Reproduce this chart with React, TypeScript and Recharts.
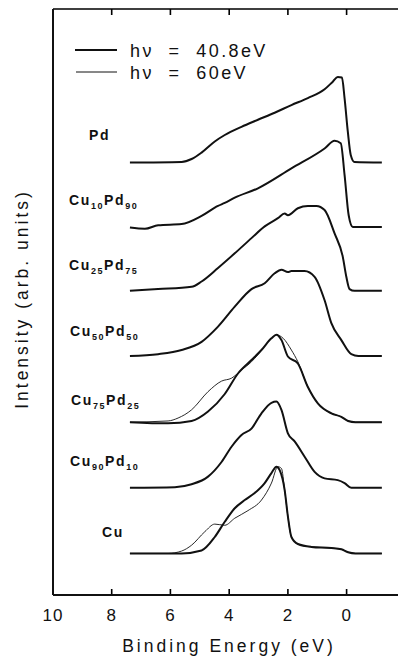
import { LineChart, Line, XAxis, YAxis } from "recharts";

// binding energy (eV) / intensity (arb. units, curves already stacked)
const pdE = [7.38, 5.62, 5.28, 4.94, 4.49, 4.15, 3.58, 3.02, 2.45, 1.88, 1.32, 0.75, 0.47, 0.3, 0.16, 0.07, -0.04, -0.14, -0.27, -1.2];
const pdI = [73.8, 73.9, 74.4, 75.5, 77.4, 78.5, 79.9, 81.1, 82.3, 83.6, 84.8, 86.3, 87.6, 88.4, 88.3, 84.8, 79.1, 75.1, 73.9, 73.8];

const cu10E = [7.38, 6.87, 6.42, 5.62, 4.94, 4.38, 4.15, 3.81, 3.02, 1.88, 0.75, 0.41, 0.2, 0.07, -0.07, -0.21, -1.2];
const cu10I = [62.7, 62.5, 63.1, 63.3, 64.7, 66.4, 66.9, 67.8, 69.4, 72.8, 76.2, 77.5, 77.1, 71.7, 64.8, 62.8, 62.8];

const cu25E = [7.38, 6.42, 5.28, 4.94, 4.38, 3.81, 3.24, 2.79, 2.34, 2.11, 2.0, 1.66, 1.32, 1.03, 0.75, 0.41, 0.13, 0.01, -0.1, -0.27, -1.2];
const cu25I = [51.9, 52.2, 52.6, 53.5, 55.8, 58.3, 60.9, 62.9, 64.3, 65.1, 64.8, 66.0, 66.4, 66.4, 65.7, 61.7, 57.7, 54.3, 52.2, 51.9, 51.9];

const cu50E = [7.38, 6.42, 5.62, 4.94, 4.38, 3.81, 3.24, 2.79, 2.45, 2.22, 2.0, 1.88, 1.43, 1.09, 0.75, 0.52, 0.18, -0.16, -0.4, -1.2];
const cu50I = [40.8, 41.1, 41.8, 43.2, 45.8, 49.2, 52.2, 53.2, 54.9, 55.5, 55.1, 55.3, 55.3, 54.3, 50.3, 46.4, 43.5, 41.1, 40.8, 40.8];

const cu75E = [7.38, 6.08, 5.28, 4.72, 4.15, 3.7, 3.24, 2.9, 2.56, 2.39, 2.22, 2.0, 1.66, 1.32, 0.98, 0.52, 0.18, -0.05, -0.3, -1.2];
const cu75I = [29.5, 29.3, 29.7, 31.3, 34.3, 37.8, 40.1, 41.8, 43.8, 44.4, 43.5, 40.7, 39.5, 35.5, 32.7, 31.0, 30.4, 29.7, 29.5, 29.5];
const cu75E60 = [7.38, 6.08, 5.74, 5.28, 4.72, 4.26, 3.92, 3.58, 3.24, 3.02, 2.56, 2.39, 2.16, 1.88, 1.66, 1.32, 0.98, 0.52, 0.18, -0.05, -0.3, -1.2];
const cu75I60 = [29.5, 29.7, 30.2, 31.6, 34.7, 36.5, 37.0, 38.4, 39.8, 41.0, 43.8, 44.4, 43.8, 41.8, 39.8, 35.5, 32.7, 31.0, 30.4, 29.7, 29.5, 29.5];

const cu90E = [7.38, 5.85, 5.28, 4.72, 4.26, 3.92, 3.58, 3.24, 2.9, 2.56, 2.39, 2.22, 2.0, 1.77, 1.43, 1.09, 0.75, 0.3, 0.07, -0.16, -1.2];
const cu90I = [18.3, 18.4, 18.9, 20.2, 22.7, 25.3, 27.3, 28.4, 31.0, 32.8, 33.0, 31.6, 27.6, 26.2, 23.6, 21.0, 19.9, 19.6, 19.1, 18.3, 18.3];

const cuE = [7.38, 5.62, 4.94, 4.49, 4.15, 3.81, 3.47, 3.13, 2.79, 2.56, 2.39, 2.28, 2.11, 2.0, 1.88, 1.66, 1.2, 0.52, 0.18, -0.05, -0.3, -1.2];
const cuI = [7.1, 7.1, 7.6, 9.9, 12.5, 14.8, 16.2, 17.4, 19.1, 20.8, 21.9, 21.3, 17.9, 13.4, 9.9, 8.7, 8.2, 8.0, 7.8, 7.3, 7.1, 7.1];
const cuE60 = [7.38, 6.08, 5.62, 5.28, 4.83, 4.49, 4.15, 3.81, 3.36, 2.9, 2.56, 2.34, 2.22, 2.11, 2.0, 1.88, 1.66, 1.2, 0.52, 0.18, -0.05, -0.3, -1.2];
const cuI60 = [7.1, 7.1, 7.5, 8.5, 10.8, 12.1, 11.9, 13.1, 14.4, 16.2, 19.1, 21.9, 21.6, 17.9, 13.4, 9.9, 8.7, 8.2, 8.0, 7.8, 7.3, 7.1, 7.1];

const xTicks = [10, 8, 6, 4, 2, 0];
const innerTicks = [8, 6, 4, 2, 0];
const xDomain: [number, number] = [-1.75, 10];

const series = [
  { id: "pd", e: pdE, v: pdI, thin: false },
  { id: "cu10", e: cu10E, v: cu10I, thin: false },
  { id: "cu25", e: cu25E, v: cu25I, thin: false },
  { id: "cu50", e: cu50E, v: cu50I, thin: false },
  { id: "cu75_60", e: cu75E60, v: cu75I60, thin: true },
  { id: "cu75", e: cu75E, v: cu75I, thin: false },
  { id: "cu90", e: cu90E, v: cu90I, thin: false },
  { id: "cu_60", e: cuE60, v: cuI60, thin: true },
  { id: "cu", e: cuE, v: cuI, thin: false },
];

// one table over all energies, each curve in its own column
const allE = Array.from(new Set(series.flatMap((s) => s.e))).sort((a, b) => b - a);
const table = allE.map((e) => {
  const row: Record<string, number> = { e };
  for (const s of series) {
    const i = s.e.indexOf(e);
    if (i >= 0) row[s.id] = s.v[i];
  }
  return row;
});

const alloyLabels = [
  { cu: "10", pd: "90", x: 69, y: 205 },
  { cu: "25", pd: "75", x: 69, y: 270 },
  { cu: "50", pd: "50", x: 70, y: 336 },
  { cu: "75", pd: "25", x: 71, y: 405 },
  { cu: "90", pd: "10", x: 70, y: 466 },
];

const INK = "#111";
const FONT = "'Liberation Sans', Arial, sans-serif";

// plot box, same numbers as the chart margins / axis sizes below
const W = 398;
const H = 657;
const PLOT = { left: 53, top: 9, right: W, bottom: H - 62 };
const energyToX = (e: number) =>
  PLOT.left + ((xDomain[1] - e) / (xDomain[1] - xDomain[0])) * (PLOT.right - PLOT.left);

// top frame plus inward ticks on top and bottom, as one path
const framePath =
  `M${PLOT.left},${PLOT.top} H${PLOT.right} ` +
  innerTicks
    .map((t) => {
      const x = energyToX(t).toFixed(1);
      return `M${x},${PLOT.top} v6 M${x},${PLOT.bottom} v-6`;
    })
    .join(" ");

function Alloy({ cu, pd, x, y }: { cu: string; pd: string; x: number; y: number }) {
  return (
    <text x={x} y={y} fontSize={14} fontWeight="bold" fill={INK} letterSpacing={1.6} fontFamily={FONT}>
      Cu
      <tspan fontSize={9} dy={4}>{cu}</tspan>
      <tspan dy={-4}>Pd</tspan>
      <tspan fontSize={9} dy={4}>{pd}</tspan>
    </text>
  );
}

function Annotations() {
  return (
    <g fontFamily={FONT}>
      <path d={framePath} fill="none" stroke="#000" strokeWidth={1.6} />
      <line x1={75} x2={117} y1={50} y2={50} stroke={INK} strokeWidth={2.2} />
      <line x1={76} x2={117} y1={72} y2={72} stroke={INK} strokeWidth={1} />
      <text x={130} y={57} fontSize={18} fill={INK} letterSpacing={2.4} style={{ whiteSpace: "pre" }}>
        {"hν  =  40.8eV"}
      </text>
      <text x={130} y={79} fontSize={18} fill={INK} letterSpacing={2.4} style={{ whiteSpace: "pre" }}>
        {"hν  =  60eV"}
      </text>
      <text x={89} y={140} fontSize={14} fontWeight="bold" fill={INK} letterSpacing={1.6}>
        Pd
      </text>
      {alloyLabels.map((l) => (
        <Alloy key={l.cu} {...l} />
      ))}
      <text x={102} y={537} fontSize={14} fontWeight="bold" fill={INK} letterSpacing={1.6}>
        Cu
      </text>
      <text
        x={22}
        y={299}
        fontSize={17.5}
        fill={INK}
        letterSpacing={3}
        textAnchor="middle"
        dominantBaseline="central"
        transform="rotate(-90 22 299)"
      >
        Intensity (arb. units)
      </text>
      <text x={229} y={652} fontSize={17.5} fill={INK} letterSpacing={3} textAnchor="middle">
        Binding Energy (eV)
      </text>
    </g>
  );
}

export default function App() {
  return (
    <div style={{ position: "absolute", left: 0, top: 0, width: W, height: H, background: "#fff", fontFamily: FONT }}>
      <LineChart width={W} height={H} data={table} margin={{ top: PLOT.top, right: 0, bottom: 0, left: 0 }}>
        <XAxis
          type="number"
          dataKey="e"
          domain={xDomain}
          reversed
          ticks={xTicks}
          height={62}
          tickLine={false}
          tickMargin={8}
          tick={{ fill: INK, fontSize: 17, fontFamily: FONT, letterSpacing: 1 }}
          axisLine={{ stroke: INK, strokeWidth: 2 }}
          allowDataOverflow
        />
        <YAxis
          type="number"
          domain={[0, 100]}
          width={53}
          tick={false}
          tickLine={false}
          axisLine={{ stroke: INK, strokeWidth: 2 }}
        />
        {series.map((s) => (
          <Line
            key={s.id}
            dataKey={s.id}
            type="monotone"
            connectNulls
            stroke={INK}
            strokeWidth={s.thin ? 0.9 : 2}
            dot={false}
            isAnimationActive={false}
          />
        ))}
        <Annotations />
      </LineChart>
    </div>
  );
}
